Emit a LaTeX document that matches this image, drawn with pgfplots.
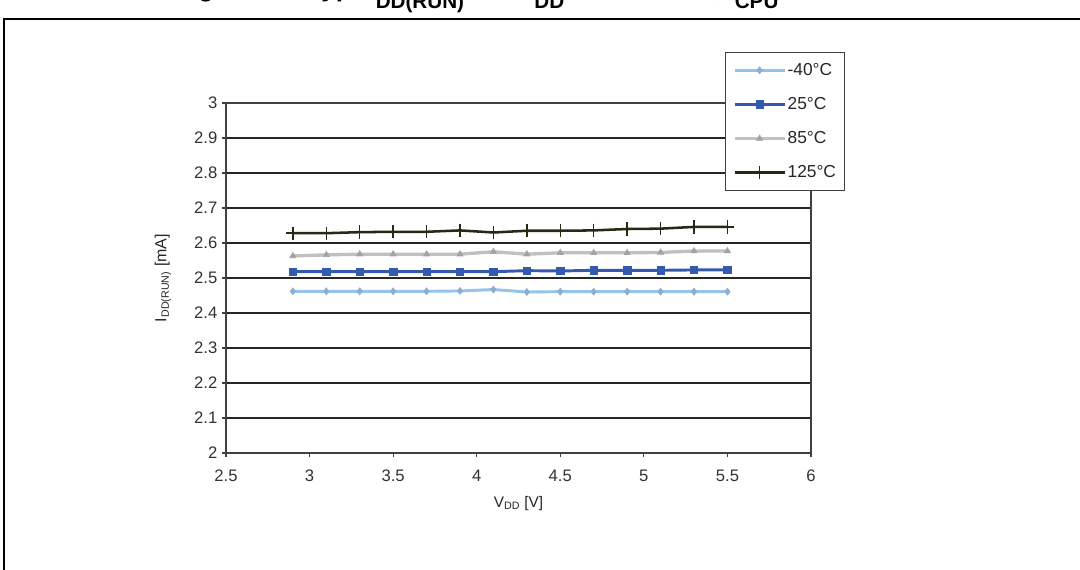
\documentclass[border=0pt]{standalone}
\usepackage{fontspec}
\setmainfont{Liberation Sans}
\usepackage{pgfplots}
\pgfplotsset{compat=1.18}
\definecolor{cA}{RGB}{150,195,235}
\definecolor{cB}{RGB}{51,90,175}
\definecolor{cC}{RGB}{192,192,192}
\definecolor{cD}{RGB}{40,40,20}
\begin{document}
\begin{tikzpicture}
\clip (0pt,0pt) rectangle (810pt,426.75pt);
\fill[white] (0pt,0pt) rectangle (810pt,426.75pt);
\draw[line width=1.9pt] (3pt,-5pt) -- (3pt,412.5pt) -- (820pt,412.5pt);
\node[anchor=base west, inner sep=0pt, font=\fontsize{19.5}{20}\selectfont\bfseries] at (131pt,429.5pt)
 {Figure 28. Typ. I\raisebox{-9.5pt}{\fontsize{15.5}{16}\selectfont DD(RUN)} vs. V\raisebox{-9.5pt}{\fontsize{15.5}{16}\selectfont DD} HSI RC osc, f\raisebox{-9.5pt}{\fontsize{15.5}{16}\selectfont CPU} = 16 MHz};
\begin{axis}[
  at={(169.5pt,87pt)}, anchor=south west,
  scale only axis, width=438.75pt, height=262.5pt,
  xmin=2.5, xmax=6, ymin=2, ymax=3,
  xtick={2.5,3,3.5,4,4.5,5,5.5,6},
  ytick={2,2.1,2.2,2.3,2.4,2.5,2.6,2.7,2.8,2.9,3},
  yticklabels={2,2.1,2.2,2.3,2.4,2.5,2.6,2.7,2.8,2.9,3},
  xticklabels={2.5,3,3.5,4,4.5,5,5.5,6},
  xtick pos=bottom, ytick pos=left,
  tick align=outside, major tick length=3pt,
  tick style={black!75, line width=0.8pt},
  ymajorgrids, major grid style={black!85, line width=0.8pt},
  axis line style={black!75, line width=0.9pt},
  ticklabel style={font=\fontsize{12.5}{14}\selectfont, text=black!80},
  xticklabel style={yshift=-6pt},
  /pgf/number format/assume math mode=true,
  every axis y label/.style={at={(axis description cs:-0.1077,0.5)}, rotate=90, anchor=center, font=\fontsize{12}{14}\selectfont, text=black!85},
  every axis x label/.style={at={(axis description cs:0.5,-0.143)}, anchor=center, font=\fontsize{11.5}{13}\selectfont, text=black!85},
  ylabel={I\textsubscript{DD(RUN)} [mA]},
  xlabel={V\textsubscript{DD} [V]},
  legend image code/.code={\draw[mark repeat=2,mark phase=2] plot coordinates {(0pt,0pt) (18.75pt,0pt) (37.5pt,0pt)};},
  legend style={
    at={(axis description cs:0.853,1.1457)}, anchor=north west,
    draw=black!75, line width=0.9pt, fill=white,
    font=\fontsize{13}{15}\selectfont, text=black!85,
    inner xsep=5.5pt, inner ysep=7pt,
    row sep=13pt,
    nodes={inner sep=1pt},
  },
  legend cell align=left,
  clip=false,
]
\addplot[color=cA, line width=2.2pt, mark=diamond*, mark size=2.6pt, mark options={solid, fill=cA!85!black!90, draw=cA!85!black!90, line width=0.5pt}]
 coordinates {(2.9,2.462)(3.1,2.462)(3.3,2.462)(3.5,2.462)(3.7,2.462)(3.9,2.463)(4.1,2.467)(4.3,2.460)(4.5,2.461)(4.7,2.461)(4.9,2.461)(5.1,2.461)(5.3,2.461)(5.5,2.461)};
\addlegendentry{-40°C}
\addplot[color=cB, line width=2.2pt, mark=square*, mark size=2.8pt, mark options={solid, fill=cB, draw=cB, line width=0.5pt}]
 coordinates {(2.9,2.518)(3.1,2.518)(3.3,2.518)(3.5,2.518)(3.7,2.518)(3.9,2.518)(4.1,2.518)(4.3,2.521)(4.5,2.520)(4.7,2.522)(4.9,2.522)(5.1,2.522)(5.3,2.523)(5.5,2.523)};
\addlegendentry{25°C}
\addplot[color=cC, line width=2.5pt, mark=triangle*, mark size=2.6pt, mark options={solid, fill=cC!85!black, draw=cC!85!black, line width=0.5pt}]
 coordinates {(2.9,2.563)(3.1,2.566)(3.3,2.568)(3.5,2.568)(3.7,2.568)(3.9,2.568)(4.1,2.575)(4.3,2.568)(4.5,2.572)(4.7,2.572)(4.9,2.572)(5.1,2.573)(5.3,2.577)(5.5,2.577)};
\addlegendentry{85°C}
\addplot[color=cD, line width=1.9pt, mark=+, mark size=5pt, mark options={solid, line width=1.1pt}]
 coordinates {(2.9,2.628)(3.1,2.628)(3.3,2.631)(3.5,2.632)(3.7,2.632)(3.9,2.636)(4.1,2.630)(4.3,2.635)(4.5,2.635)(4.7,2.636)(4.9,2.640)(5.1,2.641)(5.3,2.646)(5.5,2.646)};
\addlegendentry{125°C}
\end{axis}
\end{tikzpicture}
\end{document}
